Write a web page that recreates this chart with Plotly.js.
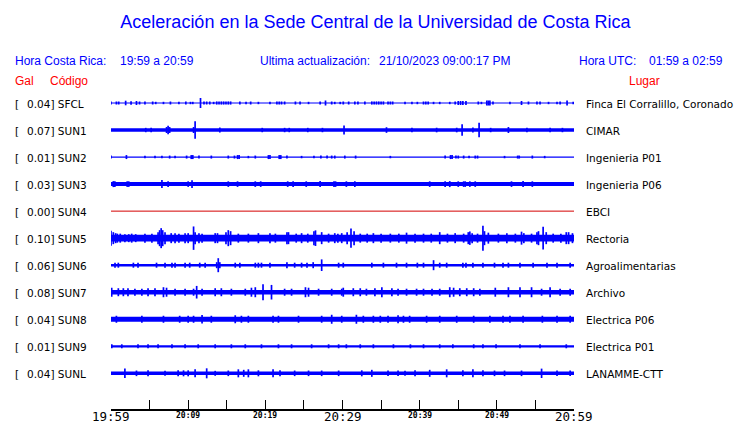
<!DOCTYPE html>
<html>
<head>
<meta charset="utf-8">
<script src="https://cdn.plot.ly/plotly-3.0.1.min.js"></script>
<style>html,body{margin:0;padding:0;background:#fff}#chart{width:740px;height:423px}</style>
</head>
<body>
<div id="chart"></div>
<script>
// ---- data ----
const codes  = ["SFCL","SUN1","SUN2","SUN3","SUN4","SUN5","SUN6","SUN7","SUN8","SUN9","SUNL"];
const places = ["Finca El Corralillo, Coronado","CIMAR","Ingenieria P01","Ingenieria P06","EBCI","Rectoria","Agroalimentarias","Archivo","Electrica P06","Electrica P01","LANAMME-CTT"];
const gal    = ["0.04","0.07","0.01","0.03","0.00","0.10","0.06","0.08","0.04","0.01","0.04"];
const tickMinutes = [0,5,10,15,20,25,30,35,40,45,50,55,60];
const tickLabels  = ["19:59","","20:09","","20:19","","20:29","","20:39","","20:49","","20:59"];
const bigTicks    = [true,false,false,false,false,false,true,false,false,false,false,false,true];

// background half-amplitude of each trace (display px)
const baseSFCL=0.6, baseSUN1=1.7, baseSUN2=0.6, baseSUN3=2.0, baseSUN4=0.5, baseSUN5=3.3,
      baseSUN6=1.3, baseSUN7=2.2, baseSUN8=2.5, baseSUN9=1.1, baseSUNL=1.7;

// bursts: minutes after 19:59 and half-amplitudes (display px)
const tSFCL=[0.0,0.7,1.0,1.9,2.6,3.3,3.7,4.4,5.4,5.8,6.8,7.7,8.8,9.7,10.3,10.6,11.6,12.05,12.4,12.8,13.3,13.7,14.0,14.3,14.6,14.9,15.2,15.5,16.7,17.5,18.1,19.1,20.6,21.5,21.8,22.1,22.5,23.9,24.5,25.6,27.1,27.8,28.6,29.0,29.7,30.1,30.8,31.6,32.0,32.9,33.8,34.1,34.4,34.7,35.0,35.3,35.9,36.2,36.5,38.1,39.0,39.7,40.5,40.8,41.1,41.8,42.6,43.9,44.6,45.0,45.3,45.6,46.0,47.6,48.0,48.7,48.9,49.1,49.5,51.7,53.2,54.1,55.2,55.6,56.7,57.8,58.2,59.1,59.9];
const aSFCL=[1.5,1.5,1.5,2.3,1.8,2.0,1.5,1.5,1.5,1.2,1.2,1.5,1.2,1.5,1.2,1.2,5.0,1.5,1.5,1.5,1.2,1.6,1.6,1.6,1.6,1.6,1.6,1.6,1.5,1.2,1.5,1.2,1.2,1.5,1.5,1.5,1.5,1.5,1.5,1.2,1.5,2.5,1.5,1.2,1.2,1.5,1.5,1.5,1.5,1.5,1.6,1.6,1.6,1.6,1.6,1.6,1.5,1.5,1.5,1.2,1.2,1.2,1.5,1.5,1.5,1.2,1.2,1.2,1.5,2.0,2.0,2.0,2.0,1.5,1.2,2.5,2.5,2.5,1.5,1.2,2.0,1.5,1.5,1.5,1.2,1.2,1.5,2.5,1.2];
const tSUN1=[4.5,5.2,7.2,7.4,7.6,10.7,10.9,14.1,19.6,22.5,23.1,25.5,27.4,30.2,35.7,39.0,42.2,44.8,45.5,46.9,47.7,49.2,51.5,53.9,56.9,58.5];
const aSUN1=[2.2,2.2,3.0,4.3,3.0,3.0,8.8,2.5,2.2,2.2,2.2,2.2,2.2,4.5,2.8,2.2,2.3,2.3,5.8,2.5,7.3,2.2,3.0,2.3,2.3,2.2];
const tSUN2=[0.0,2.0,4.4,5.7,6.6,7.6,8.3,9.8,10.4,10.6,11.4,13.0,15.2,16.0,16.4,16.6,17.8,18.7,20.4,20.6,21.8,22.0,22.8,24.7,26.3,27.2,28.0,28.6,29.0,30.3,31.7,36.2,43.3,44.0,44.2,44.7,45.0,45.7,46.4,47.2,47.5,51.0,52.7,52.9,54.6,56.2];
const aSUN2=[1.5,2.0,1.2,1.2,1.2,1.5,1.2,1.5,2.0,2.0,1.5,1.5,1.5,1.5,2.0,2.0,1.2,1.5,2.0,2.0,2.0,2.0,1.5,1.2,1.2,1.5,1.5,1.5,1.5,1.5,1.5,1.2,1.5,2.0,2.0,1.5,1.5,1.5,1.2,1.5,1.5,1.2,1.5,1.5,1.5,1.2];
const tSUN3=[0.3,0.5,2.1,2.3,6.6,7.4,10.0,10.5,15.2,16.4,18.7,19.4,22.9,23.6,25.3,27.1,28.9,29.1,30.5,31.6,41.3,43.3,43.9,45.0,45.7,45.9,46.5,47.2,51.9,53.4,54.6];
const aSUN3=[3.0,2.8,2.8,2.8,4.0,2.8,2.8,3.8,2.8,2.8,2.8,2.8,2.8,2.8,2.8,3.0,2.8,2.8,2.8,2.8,2.8,2.8,3.0,2.8,2.8,2.8,2.8,2.8,2.8,3.0,2.8];
const tSUN4=[];
const aSUN4=[];
const tSUN5=[0.0,0.3,0.6,0.82,1.2,1.8,2.3,2.68,3.2,4.4,5.3,6.1,6.3,6.5,6.7,7.0,7.8,8.3,8.8,9.6,10.0,10.7,10.9,11.4,11.8,13.5,13.8,14.9,15.2,15.5,16.5,17.8,19.1,20.6,21.3,22.8,23.0,24.0,24.7,25.5,26.3,26.5,27.3,28.2,29.0,29.4,29.9,30.6,31.1,31.5,32.3,33.2,34.0,35.0,36.2,37.3,38.3,39.4,40.5,41.5,42.6,43.6,44.6,45.7,46.3,46.5,46.8,47.5,48.2,48.4,48.9,50.2,51.3,52.4,53.2,53.5,54.5,55.2,55.4,56.0,56.4,57.3,58.3,59.0,59.3,59.8];
const aSUN5=[7.5,6.0,5.0,4.5,4.5,4.0,4.0,4.5,4.0,4.5,4.5,6.0,8.0,10.0,8.0,6.0,5.0,5.0,4.5,5.0,5.0,11.7,6.0,5.0,4.5,5.0,5.0,6.0,8.0,7.0,4.5,4.5,5.0,5.0,4.5,6.0,6.0,4.5,5.0,4.5,7.0,7.8,6.0,4.5,5.0,4.5,5.0,6.0,9.7,7.0,4.5,4.5,5.0,4.5,4.5,4.5,5.5,4.5,4.5,4.5,6.0,4.5,5.0,4.5,6.0,6.7,5.0,4.5,12.5,7.0,5.5,4.5,5.0,4.5,6.5,5.0,4.5,6.0,7.0,11.3,6.0,4.5,4.5,6.0,6.0,5.0];
const tSUN6=[0.52,0.95,2.9,3.5,5.9,7.0,7.9,8.3,9.6,10.2,11.5,12.2,13.7,13.9,14.1,16.1,16.7,18.7,19.1,19.5,20.6,22.8,23.8,24.7,25.4,26.2,27.3,29.5,30.1,33.8,35.3,37.0,38.3,39.7,40.5,41.8,42.6,43.5,45.6,46.0,46.9,48.2,49.7,50.8,51.5,53.0,54.7,56.5,57.8,59.5];
const aSUN6=[2.5,2.5,2.5,2.5,2.5,2.5,2.5,2.5,2.5,2.5,2.5,2.5,3.0,7.0,3.0,2.5,2.5,2.5,2.5,2.5,2.5,3.0,2.5,2.5,2.5,3.0,5.8,2.5,2.5,2.5,2.5,2.5,2.5,2.5,2.5,5.0,2.5,2.5,2.5,2.5,2.5,2.5,2.5,2.5,2.5,2.5,2.5,2.5,2.5,2.5];
const tSUN7=[0.09,0.95,1.6,2.2,3.1,4.0,4.8,5.7,6.8,7.2,8.3,9.6,10.7,11.1,11.8,13.5,14.3,15.6,17.4,18.2,18.7,19.7,20.8,22.5,23.4,25.2,25.6,26.9,28.6,29.9,30.1,31.4,32.3,33.1,34.2,35.1,36.4,37.2,38.3,39.6,40.5,41.6,42.6,43.9,44.4,45.2,46.1,47.0,47.8,49.8,51.5,53.0,54.5,55.8,56.9,58.2,59.5];
const aSUN7=[4.5,4.0,4.0,4.0,3.5,3.5,4.0,4.0,5.0,4.5,3.5,3.5,3.5,6.3,3.5,4.0,4.0,3.5,3.5,4.5,5.0,8.0,7.3,3.5,3.5,5.0,4.5,3.5,3.5,3.5,4.5,4.0,4.0,3.5,4.0,5.0,4.0,3.5,3.5,3.5,3.5,3.5,3.5,5.0,4.5,4.0,4.0,4.0,3.5,4.5,5.0,5.0,5.0,3.5,5.0,3.5,3.5];
const tSUN8=[0.7,4.0,6.8,8.9,10.0,10.7,11.8,13.0,16.1,16.9,17.8,21.0,21.7,24.3,27.3,28.6,29.9,31.8,32.7,34.0,34.9,35.9,37.2,37.9,38.7,40.9,42.6,44.8,47.0,49.1,50.8,51.7,53.4,55.9,57.8,59.5];
const aSUN8=[3.5,3.5,3.5,3.5,3.5,3.5,4.3,3.5,4.0,3.5,3.5,3.5,3.5,3.5,3.5,4.5,3.5,4.5,3.5,3.5,3.5,3.5,4.0,3.5,3.5,3.5,3.5,3.5,3.5,3.5,3.5,3.5,3.5,3.5,3.5,3.5];
const tSUN9=[0.1,1.4,3.5,4.8,6.1,7.9,9.6,11.3,13.5,15.6,17.4,19.5,21.7,23.4,26.0,28.2,29.5,30.5,32.3,34.0,36.6,38.8,40.5,42.6,44.3,47.0,48.2,49.9,53.0,55.6,59.0];
const aSUN9=[2.0,2.0,2.0,2.0,2.0,2.0,2.0,2.0,2.0,2.0,2.0,2.0,2.0,2.0,2.0,2.0,2.0,2.0,2.0,2.0,2.0,2.0,2.0,2.0,2.0,2.0,2.0,2.0,2.0,2.0,2.0];
const tSUNL=[1.8,3.3,4.8,7.0,8.7,9.4,10.0,10.9,12.4,13.5,15.2,16.5,17.2,17.8,19.1,21.0,21.9,23.8,25.6,27.3,29.5,32.5,33.8,35.9,37.2,38.1,39.4,41.3,43.5,45.6,46.9,48.2,49.7,51.0,53.2,55.8,57.8,59.5];
const aSUNL=[4.7,2.8,3.0,2.5,3.0,3.0,3.0,4.0,5.0,2.5,2.8,4.0,3.5,4.0,3.0,4.0,3.0,2.8,2.8,2.8,2.8,3.0,3.5,2.8,2.8,2.5,3.0,3.5,4.0,3.0,4.0,3.0,2.8,2.8,2.8,4.7,2.8,2.8];

const bases  = [baseSFCL,baseSUN1,baseSUN2,baseSUN3,baseSUN4,baseSUN5,baseSUN6,baseSUN7,baseSUN8,baseSUN9,baseSUNL];
const tAll   = [tSFCL,tSUN1,tSUN2,tSUN3,tSUN4,tSUN5,tSUN6,tSUN7,tSUN8,tSUN9,tSUNL];
const aAll   = [aSFCL,aSUN1,aSUN2,aSUN3,aSUN4,aSUN5,aSUN6,aSUN7,aSUN8,aSUN9,aSUNL];

// ---- layout geometry ----
const W=740,H=423, L=110.5, R=574.3, T=88, B=409;
const yTop=-0.555, yBot=11.32;
const pxPerRow=(B-T)/(yBot-yTop);
const blue="#0000ff", red="#ff0000";

const traces=[];
codes.forEach((c,i)=>{
  const lineColor = (c==="SUN4") ? "#d40000" : blue;
  traces.push({type:"scatter",mode:"lines",x:[0,60],y:[i,i],
    line:{color:lineColor,width:Math.max(1,2*bases[i])},hoverinfo:"skip",showlegend:false});
  const xs=[],ys=[];
  tAll[i].forEach((t,k)=>{const a=aAll[i][k]/pxPerRow; xs.push(t,t,null); ys.push(i-a,i+a,null);});
  if(xs.length) traces.push({type:"scatter",mode:"lines",x:xs,y:ys,
    line:{color:lineColor,width:1.7},hoverinfo:"skip",showlegend:false,connectgaps:false});
});

const px2paperX = p => (p-L)/(R-L);
const py2paperY = p => (B-p)/(B-T);
const ann=[];
const sans="Liberation Sans, Arial, sans-serif";
const dv="DejaVu Sans, sans-serif";
const padX=3; // annotation inner padding compensation
function txt(text,xpx,ypx,size,color,family,anchor){
  const a=anchor||"left";
  const xx = a==="left" ? xpx-padX : xpx;
  ann.push({text:text,xref:"paper",yref:"paper",x:px2paperX(xx),y:py2paperY(ypx),
    xanchor:a,yanchor:"middle",showarrow:false,
    font:{size:size,color:color,family:family}});
}
// header
txt("Hora Costa Rica:",15,60.7,12,blue,sans);
txt("19:59 a 20:59",120.5,60.7,12,blue,sans);
txt("Ultima actualización:",260.5,60.7,12,blue,sans);
txt("21/10/2023 09:00:17 PM",380,60.7,12,blue,sans);
txt("Hora UTC:",580.5,60.7,12,blue,sans);
txt("01:59 a 02:59",650,60.7,12,blue,sans);
txt("Gal",15,80.7,12,red,sans);
txt("Código",50,80.7,12,red,sans);
txt("Lugar",630,80.7,12,red,sans);
// row labels
codes.forEach((c,i)=>{
  const ypx=B-(yBot-i)*pxPerRow;
  txt("[",15,ypx+0.5,10.5,"#000",dv);
  txt(gal[i]+"] "+c,27.3,ypx+0.5,10.5,"#000",dv);
  txt(places[i],587.3,ypx+0.5,10.5,"#000",dv);
});
// time labels
tickMinutes.forEach((m,k)=>{
  if(!tickLabels[k]) return;
  const xpx=L+(R-L)*m/60;
  if(bigTicks[k]) txt(tickLabels[k],xpx,416.5,12.5,"#000","DejaVu Sans Mono, monospace","center");
  else txt("<b>"+tickLabels[k]+"</b>",xpx,416,8,"#000","DejaVu Sans Mono, monospace","center");
});

const layout={
  width:W,height:H,
  margin:{l:L,r:W-R,t:T,b:H-B,pad:0},
  paper_bgcolor:"#fff",plot_bgcolor:"#fff",
  title:{text:"Aceleración en la Sede Central de la Universidad de Costa Rica",
    font:{family:sans,size:18,color:blue},x:375.5/W,xanchor:"center",xref:"container",
    y:1-22/H,yref:"container",yanchor:"middle"},
  xaxis:{range:[0,60],tickvals:tickMinutes,ticktext:tickMinutes.map(()=>""),
    ticks:"inside",ticklen:9,tickwidth:1,tickcolor:"#000",
    showline:true,linecolor:"#000",linewidth:1.5,showgrid:false,zeroline:false,fixedrange:true},
  yaxis:{range:[yBot,yTop],showticklabels:false,showgrid:false,zeroline:false,showline:false,ticks:"",fixedrange:true},
  showlegend:false,hovermode:false,annotations:ann
};
Plotly.newPlot("chart",traces,layout,{staticPlot:true,displayModeBar:false});
</script>
</body>
</html>
